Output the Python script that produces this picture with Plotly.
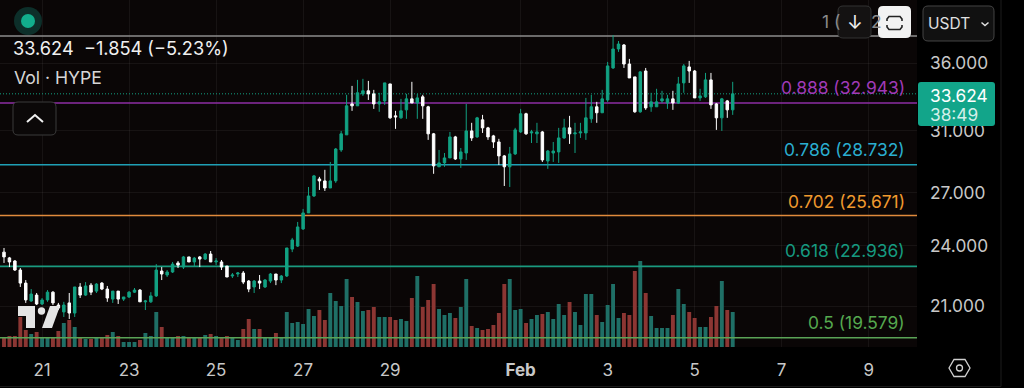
import pandas as pd
import numpy as np
import plotly.graph_objects as go

# ---------- data ----------
OPEN = [23.67,23.37,23.21,22.75,22.10,21.24,21.52,21.10,21.29,21.66,21.05,20.73,21.15,20.68,21.91,21.52,22.00,21.71,22.10,21.81,
        21.33,21.71,21.33,21.43,21.66,21.76,21.20,21.20,21.48,22.70,22.50,22.65,23.11,22.90,23.42,23.16,23.42,23.31,23.57,23.16,
        23.16,22.95,22.45,22.55,22.60,22.20,21.91,22.20,21.91,22.20,22.55,22.25,22.45,23.83,23.99,24.92,25.82,26.81,27.84,27.72,
        27.29,27.72,29.69,30.70,32.88,32.74,33.62,33.85,33.62,32.88,33.10,34.37,32.02,31.88,32.45,33.25,32.95,33.40,32.67,30.77,
        28.60,28.85,29.17,30.56,29.10,29.49,30.97,30.56,31.74,31.18,30.63,30.22,29.30,28.60,29.43,30.90,32.17,30.83,30.77,30.90,
        28.97,29.49,29.56,30.49,31.18,30.77,30.83,30.83,31.81,32.67,32.24,33.17,35.61,37.14,37.47,35.92,34.91,32.31,35.37,32.67,
        32.67,33.10,32.95,33.25,32.95,34.45,35.69,35.37,33.32,33.40,34.68,32.88,31.88,33.10,32.45]
HIGH = [23.89,23.42,23.26,22.85,22.25,21.81,21.62,21.38,21.76,21.71,21.15,21.20,21.62,21.91,22.10,22.15,22.10,22.10,22.15,21.96,
        21.71,21.71,21.43,21.71,21.86,21.81,21.29,21.66,23.05,22.90,22.75,23.16,23.21,23.47,23.42,23.42,23.47,23.62,23.73,23.36,
        23.26,22.95,22.60,22.65,22.70,22.25,22.25,22.50,22.30,22.60,22.55,22.50,23.89,24.43,25.31,26.05,27.35,28.09,27.97,28.41,
        28.91,29.82,30.97,33.55,34.22,34.68,34.76,34.60,33.92,33.70,34.45,34.37,32.38,33.25,33.62,34.53,33.62,33.55,32.74,30.83,
        29.69,29.49,30.90,30.63,29.82,32.88,31.53,31.95,32.09,31.25,30.70,30.43,29.36,29.89,31.18,32.52,32.24,31.04,31.53,30.97,
        29.69,30.22,31.18,31.81,32.02,31.53,31.53,33.32,33.55,33.03,33.92,36.09,38.30,37.80,37.55,36.33,34.91,35.37,35.61,33.70,
        34.00,33.85,33.55,33.85,34.91,35.92,36.17,35.45,34.00,35.22,35.22,32.95,33.32,33.17,34.53]
LOW = [23.11,22.90,22.70,21.91,21.15,21.20,21.05,21.05,21.20,21.05,20.82,20.50,20.41,20.50,21.38,21.48,21.52,21.62,21.76,21.20,
       21.15,21.10,21.24,21.38,21.62,21.20,20.82,21.15,21.43,22.25,22.40,22.60,22.85,22.80,23.16,22.95,22.90,23.26,23.16,23.00,
       22.75,22.40,22.35,22.40,22.05,21.66,21.62,21.81,21.86,22.10,22.00,22.10,22.40,23.67,23.94,24.86,25.82,26.75,27.17,27.11,
       27.29,27.60,29.56,30.70,32.38,32.74,33.47,33.17,32.52,32.31,32.81,31.81,31.11,31.81,31.81,32.95,31.81,31.81,30.36,28.16,
       28.60,28.60,29.17,29.04,28.53,29.04,30.29,30.49,30.83,30.36,29.82,28.72,27.41,27.35,29.36,30.83,30.70,30.15,30.15,28.91,
       28.47,28.91,28.85,30.43,30.09,29.49,30.49,30.36,31.53,31.53,32.24,33.03,35.53,36.90,35.61,34.83,32.24,32.24,32.45,32.31,
       32.67,32.95,32.52,32.45,32.88,33.70,34.45,33.32,33.10,33.32,32.52,31.04,30.97,31.88,32.09]
CLOSE = [23.42,23.16,22.75,22.10,21.29,21.57,21.10,21.29,21.66,21.15,20.91,21.05,20.68,21.91,21.52,21.96,21.66,22.05,21.81,21.38,
         21.71,21.33,21.43,21.66,21.76,21.20,21.24,21.48,22.75,22.55,22.65,23.05,23.00,23.42,23.16,23.36,23.31,23.57,23.16,23.21,
         22.90,22.40,22.50,22.60,22.15,21.81,22.20,22.10,22.25,22.55,22.25,22.45,23.89,24.32,25.03,25.82,26.81,28.03,27.72,27.29,
         27.72,29.75,30.77,32.74,32.74,33.70,33.85,33.62,32.88,33.03,34.45,31.88,31.95,32.38,33.25,32.95,33.32,32.74,30.77,28.66,
         28.85,29.17,30.56,29.10,29.56,30.97,30.49,31.88,31.18,30.56,30.22,29.30,28.60,29.43,31.04,32.17,30.77,30.90,30.90,29.04,
         29.62,29.62,30.49,31.18,30.77,30.83,30.90,31.88,32.67,32.24,33.25,35.77,37.14,37.55,35.92,34.83,32.31,35.30,32.59,33.03,
         33.03,33.25,33.25,32.95,34.37,35.77,35.37,33.32,33.47,34.68,32.81,31.88,33.25,32.45,33.624]
VOLUME = [10,11,11,30,17,13,15,10,9,10,16,24,27,20,10,8,8,10,10,12,15,11,5,5,5,7,14,11,35,20,10,10,11,11,9,9,10,12,13,11,9,11,9,7,
          18,28,18,18,10,10,14,9,35,24,25,23,38,31,37,27,54,46,41,68,50,45,36,37,40,30,30,30,27,28,26,49,71,40,47,63,38,32,34,29,40,68,
          21,19,17,18,22,34,63,68,37,38,24,28,32,33,35,28,43,32,45,35,22,53,53,32,25,42,63,29,34,32,76,86,54,31,19,19,19,32,58,43,35,29,
          20,20,30,41,66,37,35]
DAY_TICK_DATES = ["2026-01-21","2026-01-23","2026-01-25","2026-01-27","2026-01-29","2026-02-01",
                  "2026-02-03","2026-02-05","2026-02-07","2026-02-09"]
DAY_TICK_LABELS = ["21","23","25","27","29","<b>Feb</b>","3","5","7","9"]
PRICE_TICKS = [36, 31, 27, 24, 21]
PRICE_TICK_LABELS = ["36.000", "31.000", "27.000", "24.000", "21.000"]
FIB_LEVELS = [38.227, 32.943, 28.732, 25.671, 22.936, 19.579]
FIB_COLORS = ["#8c8c8c", "#8e2ea4", "#1f9fb5", "#e08a3c", "#1a9a7f", "#5aa356"]
LAST_PRICE = 33.624

UP = "#12a182"
DOWN = "#ffffff"
VOL_UP = "#1f6f66"
VOL_DOWN = "#8c3633"
W, H = 1024, 388
PLOT_R, PLOT_B = 917, 347
X_RANGE = ["2026-01-20 00:47:36", "2026-02-10 02:40:00"]

times = pd.date_range("2026-01-20 03:00", periods=len(OPEN), freq="3h")
bar_colors = [VOL_UP if c >= o else VOL_DOWN for o, c in zip(OPEN, CLOSE)]

fig = go.Figure()
fig.add_trace(go.Bar(x=times, y=VOLUME, marker=dict(color=bar_colors, line_width=0),
                     yaxis="y", hoverinfo="skip", width=3 * 3600 * 1000 * 0.72))
for lvl, col in zip(FIB_LEVELS, FIB_COLORS):
    fig.add_trace(go.Scatter(x=X_RANGE, y=[lvl, lvl], mode="lines", yaxis="y2",
                             line=dict(color=col, width=1.6), hoverinfo="skip"))
fig.add_trace(go.Scatter(x=X_RANGE, y=[LAST_PRICE, LAST_PRICE], mode="lines", yaxis="y2",
                         line=dict(color=UP, width=1, dash="1px 2px"), hoverinfo="skip"))
fig.add_trace(go.Candlestick(x=times, open=OPEN, high=HIGH, low=LOW, close=CLOSE, yaxis="y3",
                             increasing=dict(line=dict(color=UP, width=1), fillcolor=UP),
                             decreasing=dict(line=dict(color=DOWN, width=1), fillcolor=DOWN),
                             whiskerwidth=0, hoverinfo="skip"))

LOG_RANGE = [float(np.log10(19.18)), float(np.log10(41.40))]
GRID = "rgba(255,255,255,0.055)"
fig.update_layout(
    width=W, height=H, margin=dict(l=0, r=0, t=0, b=0), showlegend=False,
    paper_bgcolor="#000000", plot_bgcolor="#0a0606", boxgap=0.35,
    font=dict(family="Inter", color="#cfcfcf"),
    xaxis=dict(domain=[0, PLOT_R / W], range=X_RANGE, type="date", rangeslider=dict(visible=False),
               tickmode="array", tickvals=DAY_TICK_DATES, ticktext=DAY_TICK_LABELS,
               tickfont=dict(size=17, color="#c8c8c8"), ticks="", ticklabelstandoff=11,
               showgrid=True, gridcolor=GRID, zeroline=False, showline=False),
    yaxis=dict(domain=[1 - PLOT_B / H, 1], range=[0, PLOT_B], visible=False, showgrid=False, fixedrange=True),
    yaxis2=dict(domain=[1 - PLOT_B / H, 1], overlaying="y", type="log", range=LOG_RANGE, visible=False, showgrid=False),
    yaxis3=dict(domain=[1 - PLOT_B / H, 1], overlaying="y", type="log", range=LOG_RANGE, side="right",
                tickmode="array", tickvals=PRICE_TICKS, ticktext=PRICE_TICK_LABELS,
                tickfont=dict(size=17.3, color="#c8c8c8"), ticks="", ticklabelstandoff=12,
                showgrid=True, gridcolor=GRID, zeroline=False, showline=False),
)

# ---------- chrome helpers (pixel positions of the app's interface, not data) ----------
def px(x): return x / W
def py(y): return 1 - y / H

def rrect(x0, y0, x1, y1, r):
    p = [(x0 + r, y0), (x1 - r, y0), (x1, y0 + r), (x1, y1 - r), (x1 - r, y1), (x0 + r, y1), (x0, y1 - r), (x0, y0 + r)]
    c = [(x1, y0), (x1, y1), (x0, y1), (x0, y0)]
    f = lambda q: f"{px(q[0]):.5f},{py(q[1]):.5f}"
    return (f"M{f(p[0])} L{f(p[1])} Q{f(c[0])} {f(p[2])} L{f(p[3])} Q{f(c[1])} {f(p[4])} "
            f"L{f(p[5])} Q{f(c[2])} {f(p[6])} L{f(p[7])} Q{f(c[3])} {f(p[0])} Z")

def poly(pts, close=False):
    s = "M" + " L".join(f"{px(a):.5f},{py(b):.5f}" for a, b in pts)
    return s + (" Z" if close else "")

def shape_path(path, fill="rgba(0,0,0,0)", line="rgba(0,0,0,0)", lw=1):
    fig.add_shape(type="path", xref="paper", yref="paper", path=path, fillcolor=fill,
                  line=dict(color=line, width=lw), layer="above")

def circle(cx, cy, r, fill="rgba(0,0,0,0)", line="rgba(0,0,0,0)", lw=1):
    fig.add_shape(type="circle", xref="paper", yref="paper", x0=px(cx - r), x1=px(cx + r),
                  y0=py(cy + r), y1=py(cy - r), fillcolor=fill, line=dict(color=line, width=lw), layer="above")

def text(x, y, s, size=16, color="#cfcfcf", anchor="left"):
    fig.add_annotation(xref="paper", yref="paper", x=px(x), y=py(y), text=s, showarrow=False,
                       xanchor=anchor, yanchor="middle", font=dict(size=size, color=color, family="Inter"),
                       borderpad=0, borderwidth=0)

# status dot
circle(28, 21, 14, fill="#0d2f2a")
circle(28, 21, 7, fill="#12ad8c")
# legend
text(13, 48, "33.624&nbsp;&nbsp;−1.854 (−5.23%)", size=18.2, color="#f0f0f0")
text(14, 78, "Vol · HYPE", size=17.6, color="#d6d6d6")
# collapse button
shape_path(rrect(13, 102, 56, 135, 5), fill="#0b0808", line="#3a3a3a", lw=1)
shape_path(poly([(27, 122), (35, 115), (43, 122)]), line="#f0f0f0", lw=2)
# watermark logo
shape_path(poly([(18, 306), (35, 306), (35, 328), (26, 328), (26, 316), (18, 316)], True), fill="#e4e4e4")
circle(41.5, 311, 3.7, fill="#e4e4e4")
shape_path(poly([(50, 306), (60, 306), (52, 328), (42, 328)], True), fill="#e4e4e4")

# fib labels
text(905, 88, "0.888 (32.943)", size=17.4, color="#a03ab8", anchor="right")
text(905, 150, "0.786 (28.732)", size=17.4, color="#2aaed0", anchor="right")
text(905, 201, "0.702 (25.671)", size=17.4, color="#f09a2e", anchor="right")
text(905, 250, "0.618 (22.936)", size=17.4, color="#169a80", anchor="right")
text(905, 322, "0.5 (19.579)", size=17.4, color="#55a84f", anchor="right")
text(822, 21, "1 (", size=17.4, color="#8a8a8a")
text(871, 21, "2", size=17.4, color="#8a8a8a")

# buttons
shape_path(rrect(838, 6, 871, 38, 5), fill="#141212", line="#333333")
text(855, 22, "↓", size=19, color="#f0f0f0", anchor="center")
shape_path(rrect(878, 6, 911, 38, 5), fill="#f2f2f2")
shape_path(poly([(887, 21), (887, 19), (889, 16.5), (900, 16.5), (902, 19), (902, 21)]), line="#222222", lw=1.6)
shape_path(poly([(887, 25), (887, 27), (889, 29.5), (900, 29.5), (902, 27), (902, 25)]), line="#222222", lw=1.6)
shape_path(rrect(923, 6, 994, 41, 5), fill="#111111", line="#444444")
text(928, 23, "USDT", size=15.5, color="#e0e0e0")
shape_path(poly([(981.5, 22.5), (985, 25.5), (988.5, 22.5)]), line="#e0e0e0", lw=1.5)

# price tag
shape_path(rrect(918, 82, 995, 126, 3), fill="#12a58a")
text(930, 95, "33.624", size=17.3, color="#ffffff")
text(930, 114, "38:49", size=17.3, color="#d4efe9")

# settings hexagon
shape_path(poly([(949, 368), (954, 359.5), (965, 359.5), (970, 368), (965, 376.5), (954, 376.5)], True), line="#d0d0d0", lw=1.3)
circle(959.5, 368, 3, line="#d0d0d0", lw=1.3)

# widget frame
shape_path(poly([(0, 386.5), (1001, 386.5), (1001, 0)]), line="#1c1c1c", lw=1)

fig.write_html("out.html", config={"displayModeBar": False},
               post_script="document.body.style.margin='0';document.body.style.background='#000';document.documentElement.style.overflow='hidden';")
